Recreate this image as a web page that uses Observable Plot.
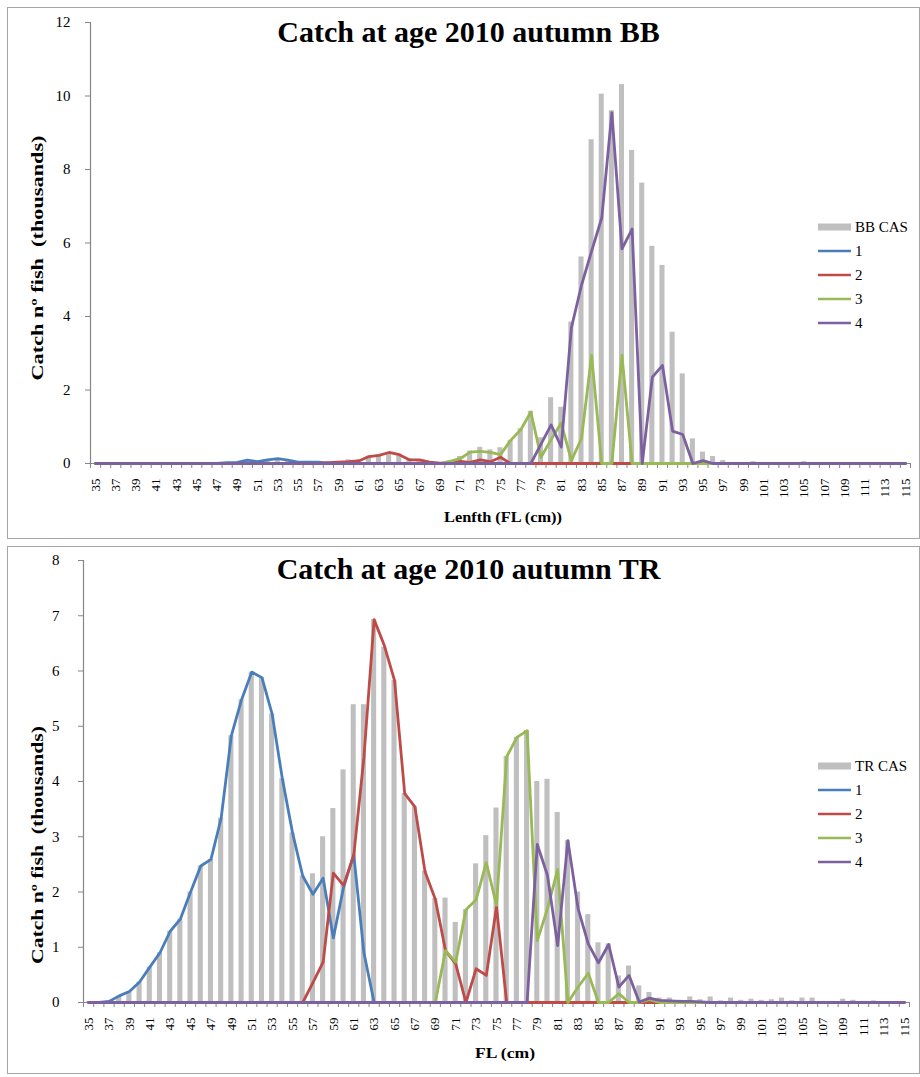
<!DOCTYPE html>
<html>
<head>
<meta charset="utf-8">
<script src="https://cdn.jsdelivr.net/npm/d3@7"></script>
<script src="https://cdn.jsdelivr.net/npm/@observablehq/plot@0.6"></script>
<style>
  body { margin: 0; background: #fff; }
  #page { position: relative; width: 920px; height: 1077px; overflow: hidden; }
  #page svg { position: absolute; left: 0; }
  #page svg text { font-family: 'Liberation Serif', 'Times New Roman', Times, serif; }
</style>
</head>
<body>
<div id="page"></div>
<script>
// Fork length classes (cm)
const lengths = [35,36,37,38,39,40,41,42,43,44,45,46,47,48,49,50,51,52,53,54,55,56,57,58,59,60,
  61,62,63,64,65,66,67,68,69,70,71,72,73,74,75,76,77,78,79,80,81,82,83,84,85,86,87,88,89,90,
  91,92,93,94,95,96,97,98,99,100,101,102,103,104,105,106,107,108,109,110,111,112,113,114,115];
const lengthLabels = [35,37,39,41,43,45,47,49,51,53,55,57,59,61,63,65,67,69,71,73,75,77,79,
  81,83,85,87,89,91,93,95,97,99,101,103,105,107,109,111,113,115];
const ageNames = ["1", "2", "3", "4"];
const ageColors = ["#4A7EBB", "#BE4B48", "#98B954", "#7D60A0"];

// Bay of Biscay (BB): total catch-at-length and catch by age, thousands
const bbCAS = [0,0,0,0,0,0,0,0,0,0,0,0,
  0.01,0.02,0.03,0.09,0.05,0.10,0.13,0.09,0.04,0.04,0.05,0.03,0.05,0.10,0.10,0.20,0.24,0.30,
  0.26,0.12,0.10,0.05,0.02,0.07,0.19,0.34,0.44,0.37,0.43,0.63,0.95,1.42,0.70,1.79,1.53,3.85,
  5.62,8.81,10.05,9.60,10.31,8.52,7.63,5.91,5.39,3.57,2.44,0.67,0.31,0.19,0.08,0.02,0.02,0.05,
  0.01,0.01,0.01,0.01,0.05,0,0,0,0,0,0,0,0,0,0];
const bbAge1 = [0,0,0,0,0,0,0,0,0,0,0,0,0,
  0.02,0.03,0.09,0.05,0.10,0.13,0.09,0.04,0.04,0.04,0.01,
  0,0,0,0,0,0,0,0,0,0,0,0,0,0,0,0,0,0,0,0,0,0,0,0,0,0,0,0,0,0,0,0,0,0,0,0,0,0,0,0,0,0,0,0,
  0,0,0,0,0,0,0,0,0,0,0,0,0];
const bbAge2 = [0,0,0,0,0,0,0,0,0,0,0,0,0,0,0,0,0,0,0,0,0,0,0,
  0.02,0.04,0.05,0.07,0.19,0.22,0.30,0.24,0.10,0.10,0.04,0.01,0.01,0.06,0.03,0.10,0.05,0.17,
  0,0,0,0,0,0,0,0,0,0,0,0,0,0,0,0,0,0,0,0,0,0,0,0,0,0,0,0,0,0,0,0,0,0,0,0,0,0,0,0];
const bbAge3 = [0,0,0,0,0,0,0,0,0,0,0,0,0,0,0,0,0,0,0,0,0,0,0,0,0,0,0,0,0,0,0,0,0,0,0,
  0.06,0.13,0.31,0.33,0.30,0.24,0.63,0.92,1.40,0.17,0.65,1.10,0.08,0.68,2.94,0,0,2.94,
  0,0,0,0,0,0,0,0,0,0,0,0,0,0,0,0,0,0,0,0,0,0,0,0,0,0,0,0];
const bbAge4 = [0,0,0,0,0,0,0,0,0,0,0,0,0,0,0,0,0,0,0,0,0,0,0,0,0,0,0,0,0,0,0,0,0,0,0,0,0,0,0,
  0,0,0,0,0,
  0.53,1.05,0.45,3.69,4.85,5.78,6.68,9.55,5.84,6.38,0,2.35,2.67,0.88,0.79,0,0.08,
  0,0,0,0,0,0,0,0,0,0,0,0,0,0,0,0,0,0,0,0];

// Tropical (TR): total catch-at-length and catch by age, thousands
const trCAS = [0.01,0.01,0.03,0.12,0.20,0.37,0.64,0.90,1.29,1.51,2.00,2.47,2.59,3.34,4.83,5.48,
  5.98,5.88,5.22,4.05,3.07,2.29,2.33,3.00,3.51,4.21,5.39,5.39,6.93,6.43,5.83,3.78,3.54,2.38,
  1.88,1.89,1.45,1.68,2.51,3.02,3.52,4.45,4.80,4.92,4.00,4.04,3.44,2.93,2.00,1.59,1.08,1.06,
  0.48,0.66,0.30,0.18,0.08,0.08,0.04,0.10,0.05,0.10,0.03,0.08,0.04,0.06,0.04,0.05,0.08,0.03,
  0.08,0.08,0.02,0.02,0.06,0.04,0.02,0.03,0.01,0.01,0];
const trAge1 = [0,0,0.02,0.12,0.20,0.37,0.64,0.90,1.29,1.51,2.00,2.47,2.59,3.34,4.83,5.48,
  5.98,5.88,5.22,4.05,3.07,2.29,1.96,2.25,1.17,2.08,2.68,0.90,
  0,0,0,0,0,0,0,0,0,0,0,0,0,0,0,0,0,0,0,0,0,0,0,0,0,0,0,0,0,0,0,0,0,0,0,0,0,0,0,0,0,0,0,0,
  0,0,0,0,0,0,0,0,0];
const trAge2 = [0,0,0,0,0,0,0,0,0,0,0,0,0,0,0,0,0,0,0,0,0,0,
  0.36,0.73,2.34,2.12,2.66,4.44,6.93,6.46,5.83,3.78,3.54,2.36,1.87,0.94,0.70,0,0.61,0.49,1.73,
  0,0,0,0,0,0,0,0,0,0,0,0,0,0,0,0,0,0,0,0,0,0,0,0,0,0,0,0,0,0,0,0,0,0,0,0,0,0,0,0];
const trAge3 = [0,0,0,0,0,0,0,0,0,0,0,0,0,0,0,0,0,0,0,0,0,0,0,0,0,0,0,0,0,0,0,0,0,0,0,
  0.94,0.73,1.68,1.86,2.53,1.76,4.45,4.80,4.92,1.12,1.70,2.41,0,0.28,0.53,0,0,0.16,0,0,0.05,
  0,0,0,0,0,0,0,0,0,0,0,0,0,0,0,0,0,0,0,0,0,0,0,0,0];
const trAge4 = [0,0,0,0,0,0,0,0,0,0,0,0,0,0,0,0,0,0,0,0,0,0,0,0,0,0,0,0,0,0,0,0,0,0,0,0,0,0,0,
  0,0,0,0,0,
  2.86,2.30,1.03,2.93,1.70,1.06,0.72,1.05,0.28,0.49,0.01,0.08,0.04,0.03,0.02,0.02,0.01,
  0,0,0,0,0,0,0,0,0,0,0,0,0,0,0,0,0,0,0,0];

const serif = "'Liberation Serif', 'Times New Roman', Times, serif";
const axisGray = "#868686";
const barGray = "#BFBFBF";

// Category boundaries, where the length axis carries its tick marks
const boundaries = lengths.map(L => L - 0.5).concat([lengths[lengths.length - 1] + 0.5]);

function drawPanel(cfg) {
  const bars = lengths.map((L, i) => ({L, v: cfg.cas[i]}));
  const lines = cfg.ages.flatMap((arr, k) => lengths.map((L, i) => ({L, v: arr[i], age: ageNames[k]})));

  const svg = Plot.plot({
    width: 920,
    height: cfg.height,
    marginLeft: cfg.marginLeft,
    marginRight: cfg.marginRight,
    marginTop: cfg.marginTop,
    marginBottom: cfg.marginBottom,
    style: {fontFamily: serif, background: "transparent", color: "#000", overflow: "visible"},
    x: {type: "linear", domain: [34.5, 115.5]},
    y: {domain: [0, cfg.yMax]},
    color: {domain: ageNames, range: ageColors},
    marks: [
      Plot.rectY(bars, {x1: d => d.L - 0.25, x2: d => d.L + 0.25, y: "v", fill: barGray}),
      Plot.ruleX([34.5], {stroke: axisGray, strokeWidth: 1.2}),
      Plot.ruleY([0], {stroke: axisGray, strokeWidth: 1.2}),
      Plot.axisX(boundaries, {tickSize: 5, tickFormat: () => "", label: null, stroke: axisGray}),
      Plot.axisX(lengthLabels, {tickSize: 0, tickPadding: cfg.xTickPad, tickRotate: -90,
        fontSize: 13, fontFamily: serif, fill: "#000", label: null, tickFormat: d => String(d)}),
      Plot.axisY(cfg.yTicks, {tickSize: 5, tickPadding: cfg.yTickPad, fontSize: 15, fontFamily: serif,
        fill: "#000", label: null, stroke: axisGray, tickFormat: d => String(d)}),
      Plot.line(lines, {x: "L", y: "v", z: "age", stroke: "age", strokeWidth: 2.8,
        strokeLinejoin: "round", strokeLinecap: "round"})
    ]
  });

  const s = d3.select(svg).style("top", cfg.top + "px");

  // panel frame
  s.insert("rect", ":first-child")
    .attr("x", 7.5).attr("y", cfg.frameTop + 0.5)
    .attr("width", 912).attr("height", cfg.frameHeight)
    .attr("fill", "none").attr("stroke", "#A6A6A6").attr("stroke-width", 1);

  // title
  s.append("text")
    .attr("x", 468.5).attr("y", cfg.titleY)
    .attr("text-anchor", "middle")
    .attr("font-family", serif).attr("font-weight", "bold").attr("font-size", 30)
    .attr("fill", "#000")
    .text(cfg.title);

  // y axis title
  s.append("text")
    .attr("transform", `translate(${cfg.yTitleX},${cfg.yTitleY}) rotate(-90)`)
    .attr("text-anchor", "middle")
    .attr("font-family", serif).attr("font-weight", "bold").attr("font-size", 16)
    .attr("textLength", cfg.yTitleLen).attr("lengthAdjust", "spacingAndGlyphs")
    .attr("fill", "#000")
    .text("Catch nº fish  (thousands)");

  // x axis title
  s.append("text")
    .attr("x", cfg.xTitleX).attr("y", cfg.xTitleY)
    .attr("text-anchor", "middle")
    .attr("font-family", serif).attr("font-weight", "bold").attr("font-size", 15)
    .attr("textLength", cfg.xTitleLen).attr("lengthAdjust", "spacingAndGlyphs")
    .attr("fill", "#000")
    .text(cfg.xTitle);

  // legend
  const lg = s.append("g").attr("font-family", serif).attr("font-size", 15)
    .attr("fill", "#000").attr("text-anchor", "start");
  const items = [{label: cfg.casLabel, color: barGray, bar: true}]
    .concat(ageNames.map((a, k) => ({label: a, color: ageColors[k], bar: false})));
  items.forEach((it, k) => {
    const y = cfg.legendY + k * 24;
    if (it.bar) {
      lg.append("rect").attr("x", 818).attr("y", y - 3.5).attr("width", 33).attr("height", 7)
        .attr("fill", it.color);
    } else {
      lg.append("line").attr("x1", 818).attr("x2", 851).attr("y1", y).attr("y2", y)
        .attr("stroke", it.color).attr("stroke-width", 2.5);
    }
    lg.append("text").attr("x", 855).attr("y", y).attr("dy", "0.35em").text(it.label);
  });

  document.getElementById("page").appendChild(svg);
}

drawPanel({
  top: 0, height: 545,
  marginLeft: 90, marginRight: 10, marginTop: 22, marginBottom: 82,
  yMax: 12, yTicks: [0, 2, 4, 6, 8, 10, 12], yTickPad: 15, xTickPad: 15,
  cas: bbCAS, ages: [bbAge1, bbAge2, bbAge3, bbAge4], casLabel: "BB CAS",
  title: "Catch at age 2010 autumn BB", titleY: 42,
  xTitle: "Lenfth (FL (cm))", xTitleX: 503, xTitleY: 522, xTitleLen: 118,
  yTitleX: 43, yTitleY: 258, yTitleLen: 245,
  legendY: 227,
  frameTop: 7, frameHeight: 531
});

drawPanel({
  top: 545, height: 532,
  marginLeft: 83, marginRight: 11, marginTop: 15, marginBottom: 75,
  yMax: 8, yTicks: [0, 1, 2, 3, 4, 5, 6, 7, 8], yTickPad: 19, xTickPad: 15,
  cas: trCAS, ages: [trAge1, trAge2, trAge3, trAge4], casLabel: "TR CAS",
  title: "Catch at age 2010 autumn TR", titleY: 34,
  xTitle: "FL (cm)", xTitleX: 505, xTitleY: 513, xTitleLen: 60,
  yTitleX: 43, yTitleY: 300, yTitleLen: 238,
  legendY: 221,
  frameTop: 1, frameHeight: 527
});
</script>
</body>
</html>
